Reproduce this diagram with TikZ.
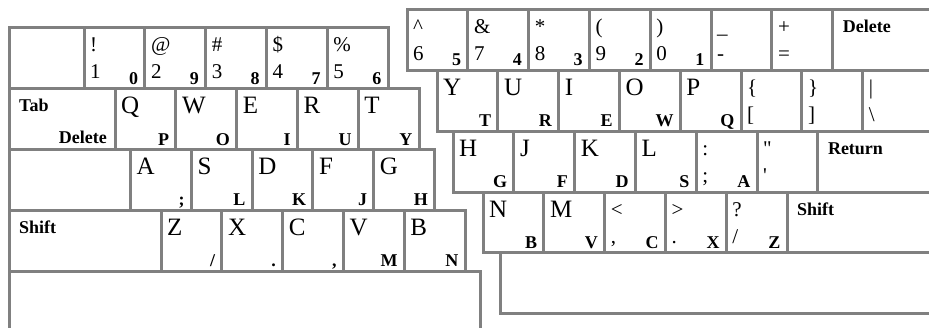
\documentclass[tikz,border=0pt]{standalone}
\usepackage{fontspec}
\setmainfont{Liberation Serif}
\usepackage{tikz}
\usetikzlibrary{positioning}

\definecolor{keygray}{RGB}{128,128,128}
\def\keyw{60.8}
% letter key: [width]{name}{x}{y}{letter}{corner}
\newcommand{\lkey}[6][\keyw]{%
  \node[keybox, minimum width=#1pt] (#2) at (#3,#4) {};
  \node[letlab] at ([xshift=6pt,yshift=-25pt]#2.north west) {#5};
  \node[cornlab] at ([xshift=-6.5pt,yshift=4.5pt]#2.south east) {#6};
}
% symbol key: [width]{name}{x}{y}{upper}{lower}{corner}
\newcommand{\skey}[7][\keyw]{%
  \node[keybox, minimum width=#1pt] (#2) at (#3,#4) {};
  \node[symlab] at ([xshift=6pt,yshift=-24pt]#2.north west) {#5};
  \node[symlab] at ([xshift=6pt,yshift=-51pt]#2.north west) {#6};
  \node[cornlab] at ([xshift=-6.5pt,yshift=4.5pt]#2.south east) {#7};
}
% word key: [width]{name}{x}{y}{word}
\newcommand{\wkey}[5][\keyw]{%
  \node[keybox, minimum width=#1pt] (#2) at (#3,#4) {};
  \node[wordlab, anchor=base west] at ([xshift=10pt,yshift=-23pt]#2.north west) {#5};
}

\begin{document}
\begin{tikzpicture}[x=1pt, y=-1pt,
  keybox/.style={draw=keygray, line width=3pt, minimum height=60.8pt,
    anchor=north west, inner sep=0pt, outer sep=0pt},
  letlab/.style={anchor=base west, inner sep=0pt, font=\fontsize{25}{25}\selectfont},
  symlab/.style={anchor=base west, inner sep=0pt, font=\fontsize{21}{21}\selectfont},
  cornlab/.style={anchor=base east, inner sep=0pt, font=\fontsize{18}{18}\selectfont\bfseries},
  wordlab/.style={inner sep=0pt, font=\fontsize{18}{18}\selectfont\bfseries}]
  \useasboundingbox (0,0) rectangle (929,328);
  \clip (0,0) rectangle (929,328);

  % left hand
  \node[keybox, minimum width=75pt] (esc) at (9,28) {};
  \foreach \i/\t/\d/\c in {0/!/1/0, 1/@/2/9, 2/{\#}/3/8, 3/{\$}/4/7, 4/{\%}/5/6}
    \skey{n\d}{84+\i*\keyw}{28}{\t}{\d}{\c};

  \wkey[106]{tab}{9}{88.8}{Tab}
  \node[wordlab, anchor=base east] at ([xshift=-8pt,yshift=6.5pt]tab.south east) {Delete};
  \foreach \i/\l/\c in {0/Q/P, 1/W/O, 2/E/I, 3/R/U, 4/T/Y}
    \lkey{l\l}{115+\i*\keyw}{88.8}{\l}{\c};

  \node[keybox, minimum width=121.5pt] (caps) at (9,149.6) {};
  \foreach \i/\l/\c in {0/A/;, 1/S/L, 2/D/K, 3/F/J, 4/G/H}
    \lkey{l\l}{130.5+\i*\keyw}{149.6}{\l}{\c};

  \wkey[152]{lshift}{9}{210.4}{Shift}
  \foreach \i/\l/\c in {0/Z/{/}, 1/X/., 2/C/{,}, 3/V/M, 4/B/N}
    \lkey{l\l}{161+\i*\keyw}{210.4}{\l}{\c};

  \node[keybox, minimum width=471pt, minimum height=120pt] (lspace) at (9,271.2) {};

  % right hand
  \foreach \i/\t/\d/\c in {0/{\textasciicircum}/6/5, 1/{\&}/7/4, 2/*/8/3, 3/(/9/2,
      4/)/0/1, 5/{\_}/-/{}, 6/+/=/{}}
    \skey{m\i}{407+\i*\keyw}{9.7}{\t}{\d}{\c};
  \wkey[150]{del}{832.6}{9.7}{Delete}

  \foreach \i/\l/\c in {0/Y/T, 1/U/R, 2/I/E, 3/O/W, 4/P/Q}
    \lkey{r\l}{437+\i*\keyw}{70.5}{\l}{\c};
  \skey{lbrace}{741}{70.5}{\{}{[}{}
  \skey{rbrace}{801.8}{70.5}{\}}{]}{}
  \skey[90]{bar}{862.6}{70.5}{\textbar}{\textbackslash}{}

  \foreach \i/\l/\c in {0/H/G, 1/J/F, 2/K/D, 3/L/S}
    \lkey{r\l}{453+\i*\keyw}{131.3}{\l}{\c};
  \skey{colon}{696.2}{131.3}{:}{;}{A}
  \skey{quote}{757}{131.3}{\textquotedbl}{\textquotesingle}{}
  \wkey[150]{ret}{817.8}{131.3}{Return}

  \foreach \i/\l/\c in {0/N/B, 1/M/V}
    \lkey{r\l}{483+\i*\keyw}{192.1}{\l}{\c};
  \skey{less}{604.6}{192.1}{<}{,}{C}
  \skey{more}{665.4}{192.1}{>}{.}{X}
  \skey{quest}{726.2}{192.1}{?}{/}{Z}
  \wkey[200]{rshift}{787}{192.1}{Shift}

  \node[keybox, minimum width=500pt] (rspace) at (500.5,252.9) {};
\end{tikzpicture}
\end{document}
